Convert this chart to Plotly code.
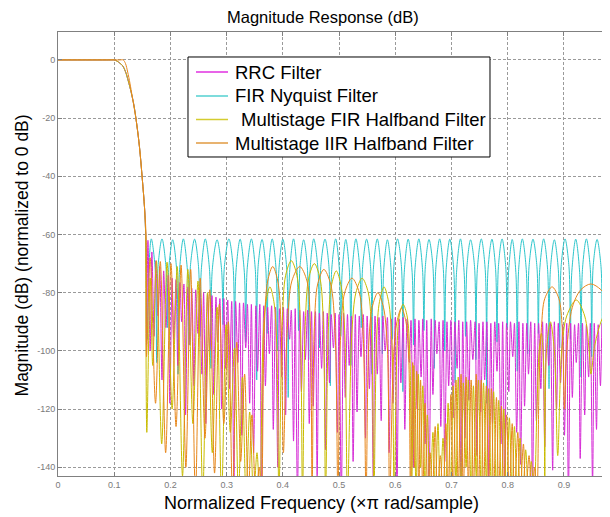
import plotly.graph_objects as go

# ---------------- data (normalized frequency, x pi rad/sample ; magnitude dB) ----------------
# shared passband / transition band (RRC, FIR Nyquist, multistage FIR halfband)
trans_f = [0.0, 0.09, 0.1, 0.105, 0.11, 0.115, 0.12, 0.125, 0.13, 0.135, 0.14, 0.145, 0.15, 0.154, 0.156]
trans_db = [0, 0, 0, -0.4, -1.1, -2.0, -4.0, -7.2, -11, -15.5, -22, -30, -41, -51, -60]

# multistage IIR halfband passband / transition band
iir_trans_f = [0.0, 0.11, 0.116, 0.12, 0.124, 0.128, 0.132, 0.136, 0.14, 0.145, 0.15, 0.154, 0.157]
iir_trans_db = [0, 0, 0, -1.2, -4.2, -8.0, -12.5, -17, -22, -30, -41, -51, -62]

# RRC filter stopband: nulls (first one precedes the first lobe) and lobe peaks
rrc_null_f = [0.1575,
    0.164, 0.171, 0.178, 0.185, 0.192, 0.199, 0.206, 0.213, 0.220, 0.227,
    0.235, 0.242, 0.249, 0.256, 0.263, 0.270, 0.277, 0.284, 0.291, 0.298,
    0.305, 0.313, 0.320, 0.327, 0.334, 0.341, 0.348, 0.355, 0.362, 0.369,
    0.376, 0.383, 0.391, 0.398, 0.405, 0.412, 0.419, 0.426, 0.433, 0.440,
    0.447, 0.454, 0.461, 0.469, 0.476, 0.483, 0.490, 0.497, 0.504, 0.511,
    0.518, 0.525, 0.532, 0.539, 0.547, 0.554, 0.561, 0.568, 0.575, 0.582,
    0.589, 0.596, 0.603, 0.610, 0.617, 0.625, 0.632, 0.639, 0.646, 0.653,
    0.660, 0.667, 0.674, 0.681, 0.688, 0.695, 0.703, 0.710, 0.717, 0.724,
    0.731, 0.738, 0.745, 0.752, 0.759, 0.766, 0.773, 0.781, 0.788, 0.795,
    0.802, 0.809, 0.816, 0.823, 0.830, 0.837, 0.844, 0.851, 0.859, 0.866,
    0.873, 0.880, 0.887, 0.894, 0.901, 0.908, 0.915, 0.922, 0.929, 0.937,
    0.944, 0.951, 0.958, 0.965, 0.972, 0.979, 0.986]
rrc_null_db = [-98,
    -100, -95, -88, -110, -92, -118, -96, -105, -90, -122,
    -98, -112, -94, -108, -125, -100, -115, -97, -120, -106,
    -113, -146, -104, -129, -99, -118, -135, -107, -150, -112,
    -101, -127, -140, -109, -122, -96, -131, -150, -114, -103,
    -125, -119, -143, -106, -134, -111, -99, -128, -150, -116,
    -105, -138, -121, -102, -130, -113, -146, -108, -124, -100,
    -135, -118, -150, -111, -127, -104, -140, -120, -109, -132,
    -150, -115, -101, -126, -138, -112, -123, -106, -150, -130,
    -117, -103, -136, -121, -110, -145, -125, -107, -132, -150,
    -114, -102, -128, -139, -119, -108, -150, -124, -113, -133,
    -105, -141, -120, -111, -129, -150, -116, -104, -137, -122,
    -109, -146, -127, -112, -134, -150, -118]
rrc_peak_f = [
    0.160, 0.167, 0.174, 0.181, 0.188, 0.196, 0.203, 0.210, 0.217, 0.224,
    0.231, 0.238, 0.245, 0.252, 0.259, 0.266, 0.274, 0.281, 0.288, 0.295,
    0.302, 0.309, 0.316, 0.323, 0.330, 0.337, 0.344, 0.352, 0.359, 0.366,
    0.373, 0.380, 0.387, 0.394, 0.401, 0.408, 0.415, 0.422, 0.430, 0.437,
    0.444, 0.451, 0.458, 0.465, 0.472, 0.479, 0.486, 0.493, 0.500, 0.508,
    0.515, 0.522, 0.529, 0.536, 0.543, 0.550, 0.557, 0.564, 0.571, 0.578,
    0.586, 0.593, 0.600, 0.607, 0.614, 0.621, 0.628, 0.635, 0.642, 0.649,
    0.656, 0.664, 0.671, 0.678, 0.685, 0.692, 0.699, 0.706, 0.713, 0.720,
    0.727, 0.734, 0.742, 0.749, 0.756, 0.763, 0.770, 0.777, 0.784, 0.791,
    0.798, 0.805, 0.812, 0.820, 0.827, 0.834, 0.841, 0.848, 0.855, 0.862,
    0.869, 0.876, 0.883, 0.890, 0.898, 0.905, 0.912, 0.919, 0.926, 0.933,
    0.940, 0.947, 0.954, 0.961, 0.968, 0.976, 0.983]
rrc_peak_db = [
    -62, -66, -69, -71, -72.5, -74, -75, -75.5, -76.5, -77,
    -78, -78.5, -79, -79.5, -80, -80.5, -81, -81.5, -82, -82,
    -82.5, -83, -83, -83.5, -83.5, -84, -84, -84.5, -84, -84.5,
    -85, -84.5, -85, -85.5, -85, -85.5, -86, -85.5, -86, -86.5,
    -86, -86.5, -86.5, -87, -86.5, -87, -87.5, -87, -87.5, -87,
    -87.5, -88, -87.5, -88, -87.5, -88, -88.5, -88, -88.5, -88,
    -88.5, -89, -88.5, -89, -88.5, -89, -89.5, -89, -89.5, -89,
    -89.5, -89, -89.5, -90, -89.5, -90, -89.5, -90, -89.5, -90,
    -90, -89.5, -90, -90.5, -90, -90, -90.5, -90, -90.5, -90,
    -90.5, -90, -90.5, -90, -90.5, -90.5, -90, -90.5, -90.5, -90,
    -90.5, -90.5, -90, -90.5, -91, -90.5, -90.5, -91, -90.5, -90.5,
    -91, -90.5, -90.5, -91, -90.5, -91, -90.5]

# FIR Nyquist filter stopband (equiripple): nulls, rising shoulders, peaks, falling shoulders
nyq_null_f = [0.159,
    0.1755, 0.1945, 0.2135, 0.233, 0.2525, 0.272, 0.2935, 0.314, 0.334,
    0.3535, 0.372, 0.3905, 0.4095, 0.428, 0.446, 0.465, 0.4845, 0.503, 0.521,
    0.5395, 0.5585, 0.577, 0.595, 0.6135, 0.6325, 0.651, 0.6695, 0.688, 0.7065,
    0.725, 0.7435, 0.7625, 0.781, 0.799, 0.817, 0.8355, 0.8545, 0.8735, 0.8925,
    0.9115, 0.9305, 0.9495, 0.9685, 0.987]
nyq_null_db = [-96,
    -104, -92, -108, -98, -95, -106, -91, -101, -97,
    -110, -94, -100, -116, -93, -103, -99, -112, -95, -105,
    -92, -108, -101, -96, -114, -98, -93, -106, -100, -111,
    -95, -103, -118, -97, -92, -107, -101, -94, -113, -99,
    -96, -109, -102, -94, -104]
nyq_rise_f = [
    0.1615, 0.178, 0.197, 0.216, 0.2355, 0.255, 0.2745, 0.296, 0.3165, 0.3365,
    0.356, 0.3745, 0.393, 0.412, 0.4305, 0.4485, 0.4675, 0.487, 0.5055, 0.5235,
    0.542, 0.561, 0.5795, 0.5975, 0.616, 0.635, 0.6535, 0.672, 0.6905, 0.709,
    0.7275, 0.746, 0.765, 0.7835, 0.8015, 0.8195, 0.838, 0.857, 0.876, 0.895,
    0.914, 0.933, 0.952, 0.971]
nyq_peak_f = [
    0.166, 0.185, 0.204, 0.223, 0.243, 0.262, 0.283, 0.304, 0.324, 0.344,
    0.363, 0.381, 0.400, 0.419, 0.437, 0.455, 0.475, 0.494, 0.512, 0.530,
    0.549, 0.568, 0.586, 0.604, 0.623, 0.642, 0.660, 0.679, 0.697, 0.716,
    0.734, 0.753, 0.772, 0.790, 0.808, 0.826, 0.845, 0.864, 0.883, 0.902,
    0.921, 0.940, 0.959, 0.978]
nyq_fall_f = [
    0.173, 0.192, 0.211, 0.2305, 0.25, 0.2695, 0.291, 0.3115, 0.3315, 0.351,
    0.3695, 0.388, 0.407, 0.4255, 0.4435, 0.4625, 0.482, 0.5005, 0.5185, 0.537,
    0.556, 0.5745, 0.5925, 0.611, 0.63, 0.6485, 0.667, 0.6855, 0.704, 0.7225,
    0.741, 0.76, 0.7785, 0.7965, 0.8145, 0.833, 0.852, 0.871, 0.89, 0.909,
    0.928, 0.947, 0.966, 0.9845]
nyq_peak_db = [
    -61.5, -61.5, -61.8, -61.5, -61.6, -61.5, -61.8, -61.5, -61.6, -61.5,
    -61.7, -61.5, -61.6, -61.5, -61.8, -61.5, -61.6, -61.5, -61.7, -61.5,
    -61.6, -61.5, -61.8, -61.5, -61.6, -61.5, -61.7, -61.5, -61.6, -61.5,
    -61.8, -61.5, -61.6, -61.5, -61.7, -61.5, -61.6, -61.5, -61.8, -61.5,
    -61.6, -61.5, -61.7, -61.5]
nyq_shoulder_db = [
    -72, -71, -72, -73, -71, -72, -72, -71, -73, -72,
    -71, -72, -72, -73, -71, -72, -71, -72, -73, -72,
    -71, -72, -72, -71, -73, -72, -71, -72, -72, -73,
    -71, -72, -72, -71, -73, -72, -71, -72, -72, -71,
    -73, -72, -71, -72]

# Multistage FIR halfband filter stopband
fir_hb_f = [0.156, 0.158, 0.164, 0.1685, 0.175, 0.1845, 0.194, 0.203, 0.212, 0.2215,
    0.231, 0.240, 0.249, 0.2575, 0.266, 0.2745, 0.283, 0.291, 0.299, 0.3065,
    0.314, 0.321, 0.328, 0.3345, 0.341, 0.348, 0.354, 0.359,
    0.365, 0.370, 0.377, 0.384, 0.389, 0.393,
    0.399, 0.405, 0.415, 0.425, 0.431, 0.435,
    0.440, 0.446, 0.456, 0.466, 0.472, 0.476,
    0.481, 0.486, 0.495, 0.504, 0.510, 0.515,
    0.523, 0.530, 0.541, 0.552, 0.558, 0.562,
    0.567, 0.572, 0.580, 0.588, 0.594, 0.598,
    0.603, 0.607, 0.614, 0.621, 0.626, 0.629,
    0.633, 0.637, 0.641, 0.645, 0.649, 0.653, 0.657, 0.662, 0.667, 0.671,
    0.676, 0.680, 0.685, 0.690, 0.694, 0.699, 0.703, 0.708, 0.712, 0.717,
    0.721, 0.726, 0.730, 0.735, 0.739, 0.744, 0.748, 0.753, 0.757, 0.762,
    0.766, 0.771, 0.775, 0.780, 0.784, 0.789, 0.793, 0.798, 0.803, 0.808,
    0.812, 0.817, 0.822, 0.827, 0.832, 0.837, 0.842, 0.847,
    0.852, 0.856, 0.860, 0.864, 0.866,
    0.869, 0.876, 0.883, 0.889,
    0.896, 0.905, 0.922, 0.937, 0.945, 0.948,
    0.955, 0.968, 0.984]
fir_hb_db = [-60, -128, -75, -105, -69, -132, -69.5, -120, -71, -143,
    -72, -125, -76, -150, -80, -135, -85, -150, -91, -128,
    -99, -150, -109, -150, -121, -150, -135, -150,
    -95, -83, -78, -83, -97, -150,
    -90, -74, -69, -74, -90, -150,
    -90, -75, -70, -75, -90, -150,
    -92, -78, -72.5, -78, -93, -150,
    -93, -80, -75, -80, -95, -150,
    -95, -83, -78, -83, -97, -150,
    -100, -88, -84, -88, -102, -150,
    -105, -150, -108, -140, -112, -150, -122, -150, -128, -150,
    -125, -150, -130, -150, -118, -150, -112, -145, -109, -150,
    -111, -140, -110, -150, -112, -143, -110, -150, -111, -145,
    -113, -150, -114, -150, -117, -150, -120, -150, -123, -150,
    -126, -150, -130, -150, -134, -150, -138, -150,
    -120, -100, -94, -105, -150,
    -100, -90, -100, -136,
    -100, -88, -82.5, -88, -100, -108,
    -98, -89, -84]

# Multistage IIR halfband filter stopband
iir_hb_f = [0.1575, 0.164, 0.1735, 0.182, 0.1915, 0.201, 0.210, 0.219, 0.2275,
    0.236, 0.2445, 0.253, 0.2615, 0.270, 0.2785, 0.287, 0.295, 0.303, 0.3105,
    0.318, 0.325, 0.332, 0.3385, 0.345, 0.352, 0.358, 0.362,
    0.367, 0.373, 0.382, 0.391, 0.397, 0.401,
    0.408, 0.416, 0.430, 0.443, 0.449, 0.452,
    0.456, 0.462, 0.473, 0.485, 0.493, 0.498,
    0.503, 0.510, 0.523, 0.536, 0.543, 0.548,
    0.553, 0.559, 0.569, 0.579, 0.586, 0.590,
    0.597, 0.603, 0.611, 0.619, 0.624, 0.627,
    0.631, 0.634, 0.638, 0.642, 0.645, 0.649, 0.653, 0.658, 0.662, 0.666,
    0.671, 0.675, 0.680, 0.685, 0.690, 0.694, 0.699, 0.703, 0.708, 0.712,
    0.717, 0.721, 0.726, 0.730, 0.735, 0.739, 0.744, 0.748, 0.753, 0.757,
    0.762, 0.766, 0.771, 0.775, 0.780, 0.784, 0.789, 0.793, 0.798, 0.803,
    0.808, 0.812, 0.818, 0.822, 0.828, 0.832, 0.838, 0.843, 0.848, 0.852,
    0.856, 0.860, 0.866, 0.879, 0.891, 0.897, 0.901,
    0.905, 0.915, 0.930, 0.948, 0.966, 0.984, 0.992]
iir_hb_db = [-102, -68, -118, -69.3, -135, -70, -126, -70.5, -140,
    -72, -150, -75, -130, -79, -142, -84, -125, -90, -150,
    -97, -138, -108, -150, -122, -150, -140, -150,
    -92, -76, -71, -76, -92, -135,
    -92, -76, -71, -76, -92, -150,
    -92, -77, -72, -77, -94, -150,
    -94, -80, -75, -80, -95, -150,
    -97, -85, -80, -85, -99, -150,
    -102, -90, -85.3, -90, -103, -150,
    -104, -140, -107, -150, -110, -150, -118, -150, -135, -150,
    -126, -150, -136, -150, -125, -150, -115, -150, -110, -148,
    -108, -150, -109, -146, -110, -150, -108, -150, -110, -150,
    -112, -148, -113, -150, -116, -150, -119, -150, -122, -150,
    -125, -150, -128, -150, -132, -150, -136, -150, -140, -150,
    -110, -92, -82, -78, -82, -92, -120,
    -100, -85, -79, -77, -79, -84, -92]

names = ["RRC Filter", "FIR Nyquist Filter", "Multistage FIR Halfband Filter",
         "Multistage IIR Halfband Filter"]
colors = ["#D62AD6", "#2CC6CC", "#C9BC00", "#E8871A"]
legend_colors = ["#E030E0", "#7EDCDC", "#D4CC30", "#E09A40"]

x_ticks = [0, 0.1, 0.2, 0.3, 0.4, 0.5, 0.6, 0.7, 0.8, 0.9]
y_ticks = [0, -20, -40, -60, -80, -100, -120, -140]


def lobes(null_f, null_db, peak_f, peak_db):
    f, d = [null_f[0]], [null_db[0]]
    for pf, pd, nf, nd in zip(peak_f, peak_db, null_f[1:], null_db[1:]):
        f += [pf, nf]
        d += [pd, nd]
    return f, d


def arches(null_f, null_db, rise_f, peak_f, fall_f, peak_db, sh_db):
    f, d = [null_f[0]], [null_db[0]]
    for rf_, pf, ff, pd, sd, nf, nd in zip(rise_f, peak_f, fall_f, peak_db, sh_db,
                                            null_f[1:], null_db[1:]):
        f += [rf_, pf, ff, nf]
        d += [sd, pd, sd, nd]
    return f, d


rf, rd = lobes(rrc_null_f, rrc_null_db, rrc_peak_f, rrc_peak_db)
cf, cd = arches(nyq_null_f, nyq_null_db, nyq_rise_f, nyq_peak_f, nyq_fall_f,
                nyq_peak_db, nyq_shoulder_db)

series = {
    "rrc": (trans_f + rf, trans_db + rd),
    "nyq": (trans_f + cf, trans_db + cd),
    "fir": (trans_f + fir_hb_f, trans_db + fir_hb_db),
    "iir": (iir_trans_f + iir_hb_f, iir_trans_db + iir_hb_db),
}

fig = go.Figure()
order = [("nyq", 1), ("rrc", 0), ("fir", 2), ("iir", 3)]
for key, idx in order:
    xs, ys = series[key]
    fig.add_trace(go.Scatter(
        x=xs, y=ys, mode="lines", name=names[idx], showlegend=False,
        line=dict(color=colors[idx], width=1, shape="spline", smoothing=0.9),
        hoverinfo="skip"))

font_main = "Liberation Sans, Arial, sans-serif"
# the page body has an 8px margin, so the figure is sized/offset to land the
# axes at the same place as in the reference window
fig.update_layout(
    width=602, height=509,
    margin=dict(l=50, r=0, t=24, b=41),
    paper_bgcolor="white", plot_bgcolor="white",
    font=dict(family=font_main, color="black"),
    showlegend=False,
)
axis_common = dict(showgrid=True, gridcolor="#9a9a9a", gridwidth=1, griddash="3px,2px",
                   zeroline=False, showline=True, linecolor="#808080", linewidth=1,
                   ticks="inside", ticklen=4, tickcolor="#808080",
                   tickfont=dict(size=9, color="#7a7a7a", family=font_main))
fig.update_xaxes(range=[0, 0.982], tickvals=x_ticks,
                 ticktext=[("%g" % v) for v in x_ticks], mirror="ticks", **axis_common)
fig.update_yaxes(range=[-143, 9.6], tickvals=y_ticks,
                 ticktext=[str(v) for v in y_ticks], mirror=False, **axis_common)

# legend box (drawn as a framed key so its row spacing matches the reference)
fig.add_shape(type="rect", xref="paper", yref="paper", x0=0.2355, x1=0.7826,
              y0=0.7185, y1=0.9437, line=dict(color="black", width=1), fillcolor="white",
              layer="above")
row_y = [0.9099, 0.8559, 0.8029, 0.75]
text_x = [0.317, 0.317, 0.3275, 0.317]
for i in range(4):
    fig.add_shape(type="line", xref="paper", yref="paper", x0=0.25, x1=0.308,
                  y0=row_y[i], y1=row_y[i], layer="above",
                  line=dict(color=legend_colors[i], width=1.8 if i == 1 else 1.5))
    fig.add_annotation(text=names[i], xref="paper", yref="paper", x=text_x[i], y=row_y[i],
                       xanchor="left", yanchor="middle", showarrow=False,
                       font=dict(size=18.5, family=font_main, color="black"))

fig.add_annotation(text="Magnitude Response (dB)", xref="paper", yref="paper",
                   x=0.48, y=1.034, xanchor="center", yanchor="middle", showarrow=False,
                   font=dict(size=16.5, family=font_main, color="black"))
fig.add_annotation(text="Normalized Frequency (\u00d7\u03c0 rad/sample)", xref="paper", yref="paper",
                   x=0.478, y=-0.061, xanchor="center", yanchor="middle", showarrow=False,
                   font=dict(size=18, family=font_main, color="black"))
fig.add_annotation(text="Magnitude (dB) (normalized to 0 dB)", xref="paper", yref="paper",
                   x=-0.065, y=0.497, xanchor="center", yanchor="middle", showarrow=False,
                   textangle=-90, font=dict(size=17.5, family=font_main, color="black"))

fig.write_html("out.html")
